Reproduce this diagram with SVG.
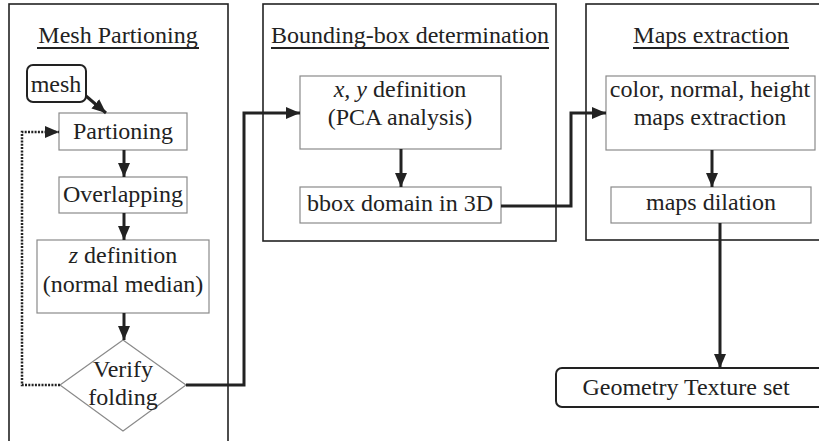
<svg xmlns="http://www.w3.org/2000/svg" width="819" height="441" viewBox="0 0 819 441">
<style>
text{font-family:"Liberation Serif","Times New Roman",serif;font-size:24px;fill:#222;text-anchor:middle}
.panel{fill:none;stroke:#222;stroke-width:1.6}
.box{fill:#fff;stroke:#8a8a8a;stroke-width:1.2}
.term{fill:#fff;stroke:#222;stroke-width:2}
.ul{stroke:#222;stroke-width:1.8}
.arr{fill:none;stroke:#222;stroke-width:3;marker-end:url(#ah)}
.dot{fill:none;stroke:#222;stroke-width:2.5;stroke-dasharray:2 1.3;marker-end:url(#ah)}
</style>
<defs>
<marker id="ah" markerUnits="userSpaceOnUse" markerWidth="14" markerHeight="14" viewBox="0 0 14 14" refX="14" refY="7" orient="auto">
<path d="M0,1 L14,7 L0,13 Z" fill="#222"/>
</marker>
</defs>
<rect width="819" height="441" fill="#fff"/>
<g id="panel-mesh">
<rect class="panel" x="9" y="4" width="219" height="460"/>
<text x="118" y="43">Mesh Partioning</text>
<line class="ul" x1="37" y1="48" x2="199" y2="48"/>
</g>
<g id="panel-bbox">
<rect class="panel" x="263" y="4" width="293" height="237"/>
<text x="410" y="43">Bounding-box determination</text>
<line class="ul" x1="271" y1="48" x2="549" y2="48"/>
</g>
<g id="panel-maps">
<rect class="panel" x="586" y="4" width="260" height="236"/>
<text x="711" y="43">Maps extraction</text>
<line class="ul" x1="633" y1="48" x2="789" y2="48"/>
</g>
<g id="mesh">
<rect class="term" x="27" y="65" width="59" height="37" rx="6"/>
<text x="56" y="92">mesh</text>
</g>
<g id="partioning">
<rect class="box" x="59" y="113" width="128" height="37"/>
<text x="123" y="139">Partioning</text>
</g>
<g id="overlapping">
<rect class="box" x="59" y="177" width="128" height="36"/>
<text x="123" y="202">Overlapping</text>
</g>
<g id="zdef">
<rect class="box" x="37" y="240" width="172" height="73"/>
<text x="123" y="263"><tspan font-style="italic">z</tspan> definition</text>
<text x="123" y="292">(normal median)</text>
</g>
<g id="verify">
<polygon class="box" points="123,340 186,385 123,431 60,385" stroke="#222"/>
<text x="123" y="377">Verify</text>
<text x="123" y="405">folding</text>
</g>
<g id="xydef">
<rect class="box" x="300" y="76" width="201" height="73"/>
<text x="400" y="97"><tspan font-style="italic">x, y</tspan> definition</text>
<text x="400" y="125">(PCA analysis)</text>
</g>
<g id="bboxdomain">
<rect class="box" x="300" y="187" width="201" height="36"/>
<text x="400" y="211">bbox domain in 3D</text>
</g>
<g id="colormaps">
<rect class="box" x="606" y="76" width="209" height="74"/>
<text x="710" y="97">color, normal, height</text>
<text x="710" y="125">maps extraction</text>
</g>
<g id="dilation">
<rect class="box" x="611" y="187" width="200" height="36"/>
<text x="711" y="210">maps dilation</text>
</g>
<g id="geometry">
<rect class="term" x="556" y="368" width="290" height="39" rx="6"/>
<text x="686" y="395">Geometry Texture set</text>
</g>
<g id="connectors">
<path class="arr" d="M86,96 L106,113"/>
<path class="arr" d="M124,150 L124,177"/>
<path class="arr" d="M124,213 L124,240"/>
<path class="arr" d="M124,313 L124,340"/>
<path class="dot" d="M60,385 L22,385 L22,132 L59,132"/>
<path class="arr" d="M186,385 L244,385 L244,113 L300,113"/>
<path class="arr" d="M401,149 L401,187"/>
<path class="arr" d="M501,206 L571,206 L571,113 L606,113"/>
<path class="arr" d="M712,150 L712,187"/>
<path class="arr" d="M720,223 L720,368"/>
</g>
</svg>
